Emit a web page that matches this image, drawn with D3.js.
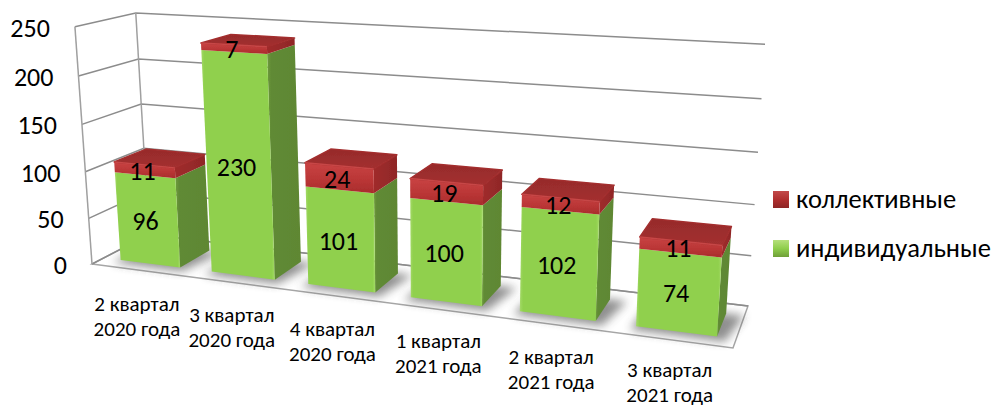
<!DOCTYPE html>
<html><head><meta charset="utf-8">
<script src="https://cdn.jsdelivr.net/npm/d3@7"></script>
<style>html,body{margin:0;background:#fff}svg{display:block}text{font-family:Carlito,Calibri,"Open Sans",sans-serif;fill:#000}</style>
</head><body><svg id="c" width="992" height="407"></svg>
<script>
const categories=[["2 квартал","2020 года"],["3 квартал","2020 года"],["4 квартал","2020 года"],["1 квартал","2021 года"],["2 квартал","2021 года"],["3 квартал","2021 года"]];
const individual=[96,230,101,100,102,74];
const collective=[11,7,24,19,12,11];
const valueTicks=[0,50,100,150,200,250];
const seriesNames=["коллективные","индивидуальные"];
const labelDrop=[41,40,41,39,40,37];
const labelShift=[0,1,2,2,2,0];

// camera: floor corners, vertical vanishing point, height of the back-left corner at the top value
const floorQuad=[[92,264],[733,348],[748,306],[149,234.5]];
const vanish=[438,5072];
const backLeftTopY=13;
function homography(q){
  const [[x0,y0],[x1,y1],[x2,y2],[x3,y3]]=q;
  const dx1=x1-x2,dx2=x3-x2,sx=x0-x1+x2-x3,dy1=y1-y2,dy2=y3-y2,sy=y0-y1+y2-y3;
  const d=dx1*dy2-dx2*dy1,g=(sx*dy2-dx2*sy)/d,h=(dx1*sy-sx*dy1)/d;
  return {a:x1-x0+g*x1,b:x3-x0+h*x3,c:x0,d:y1-y0+g*y1,e:y3-y0+h*y3,f:y0,g,h};
}
const H=homography(floorQuad);
const wBL=H.g*0+H.h*1+1, yBL=(H.e+H.f)/wBL;
const S=wBL*(backLeftTopY-yBL)/(vanish[1]-backLeftTopY);
const yScale=d3.scaleLinear().domain([0,250]).range([0,1]);
const P=(u,v,val)=>{const t=yScale(val)*S,w=H.g*u+H.h*v+1+t;
  return [(H.a*u+H.b*v+H.c+t*vanish[0])/w,(H.d*u+H.e*v+H.f+t*vanish[1])/w];};
const xBand=d3.scaleBand().domain(d3.range(categories.length)).range([.003,1.003]).paddingInner(.34).paddingOuter(.17);
const catX=d3.scaleBand().domain(d3.range(categories.length)).range([0,1]);
const zScale=d3.scaleLinear().domain([0,1]).range([.2,.75]);

const svg=d3.select("#c"),defs=svg.append("defs");
defs.append("filter").attr("id","soft").append("feGaussianBlur").attr("stdDeviation",.45);
const sh=defs.append("filter").attr("id","sh").attr("x","-30%").attr("y","-30%").attr("width","160%").attr("height","160%");
sh.append("feGaussianBlur").attr("stdDeviation",5);
function grad(id,stops,x2,y2){const g=defs.append("linearGradient").attr("id",id).attr("x1",0).attr("y1",0).attr("x2",x2).attr("y2",y2);
 stops.forEach(s=>g.append("stop").attr("offset",s[0]).attr("stop-color",s[1]));}
grad("gf",[[0,"#a4da68"],[.04,"#90d04d"],[.96,"#90d04d"],[1,"#a4da68"]],1,0);
grad("gs",[[0,"#6f9c3d"],[.12,"#608a35"],[1,"#5e8733"]],1,0);
grad("rf",[[0,"#c94343"],[.6,"#b93535"],[1,"#a82c2c"]],0,1);
grad("rs",[[0,"#a02c2c"],[1,"#8f2727"]],1,0);
grad("rt",[[0,"#962b2b"],[1,"#a43030"]],0,1);
grad("lr",[[0,"#c24a4a"],[.5,"#b02f2f"],[1,"#8e2525"]],0,1);
grad("lg",[[0,"#b6e07c"],[.5,"#8fce4c"],[1,"#6f9f38"]],0,1);

const line=d3.line();
const poly=pts=>line(pts)+"Z";
const chart=svg.append("g").attr("filter","url(#soft)");
const grid="#8c8c8c";
chart.append("path").attr("d",poly([P(0,0,0),P(1,0,0),P(1,1,0),P(0,1,0)])).attr("fill","#fff").attr("stroke","#a6a6a6").attr("stroke-width",1.5);
chart.selectAll(".g").data(valueTicks).join("path").attr("d",t=>line([P(0,0,t),P(0,1,t),P(1,1,t)])).attr("fill","none").attr("stroke",grid).attr("stroke-width",1.5);
chart.append("path").attr("d",line([P(0,0,0),P(0,0,250)])).attr("stroke","#a0a0a0").attr("stroke-width",1.5).attr("fill","none");
chart.append("path").attr("d",line([P(0,1,0),P(0,1,250)])).attr("stroke","#a0a0a0").attr("stroke-width",1.5).attr("fill","none");

const v0=zScale(0),v1=zScale(1);
categories.forEach((c,i)=>{
  const u0=xBand(i),u1=u0+xBand.bandwidth(),a=individual[i],b=a+collective[i],g=chart.append("g");
  g.append("path").attr("d",poly([P(u0-.005,v0-.09,0),P(u1+.012,v0-.09,0),P(u1+.025,v1,0),P(u0,v1,0)])).attr("fill","#444").attr("opacity",.6).attr("filter","url(#sh)");
  const seg=(lo,hi,fF,fS)=>{
    g.append("path").attr("d",poly([P(u1,v0,lo),P(u1,v1,lo),P(u1,v1,hi),P(u1,v0,hi)])).attr("fill",`url(#${fS})`);
    g.append("path").attr("d",poly([P(u0,v0,lo),P(u1,v0,lo),P(u1,v0,hi),P(u0,v0,hi)])).attr("fill",`url(#${fF})`);
  };
  seg(0,a,"gf","gs");
  seg(a,b,"rf","rs");
  g.append("path").attr("d",poly([P(u0,v0,b),P(u1,v0,b),P(u1,v1,b),P(u0,v1,b)])).attr("fill","url(#rt)").attr("stroke","#a32e2e").attr("stroke-width",1.5).attr("stroke-linejoin","round");
  g.append("path").attr("d",line([P(u0,v0,b),P(u1,v0,b)])).attr("stroke","#c74646").attr("stroke-width",1.5).attr("fill","none");
});
const dataLabels=svg.append("g").attr("font-size",26).attr("text-anchor","middle");
categories.forEach((c,i)=>{
  const um=xBand(i)+xBand.bandwidth()/2;
  const p=P(um,v0,individual[i]/2),q=P(um,v0,individual[i]+collective[i]/2);
  dataLabels.append("text").attr("x",p[0]-2).attr("y",p[1]+10).text(individual[i]);
  dataLabels.append("text").attr("x",q[0]-2).attr("y",q[1]+10).text(collective[i]);
});
svg.append("g").attr("font-size",26).attr("text-anchor","end").selectAll("text").data(valueTicks).join("text")
 .attr("x",t=>P(0,0,t)[0]-25).attr("y",t=>P(0,0,t)[1]+10).text(t=>t);
const cl=svg.append("g").attr("font-size",21).attr("text-anchor","middle");
categories.forEach((c,i)=>{
  const p=P(catX(i)+catX.bandwidth()/2,0,0);
  c.forEach((s,k)=>cl.append("text").attr("x",p[0]+labelShift[i]).attr("y",p[1]+labelDrop[i]+k*25).text(s));
});
const lg=svg.append("g");
seriesNames.forEach((s,i)=>{
  const y=191+i*49;
  lg.append("rect").attr("x",773).attr("y",y).attr("width",16).attr("height",17).attr("fill",`url(#${i?"lg":"lr"})`);
  lg.append("text").attr("x",796).attr("y",y+17).attr("font-size",26.5).text(s);
});
</script></body></html>
